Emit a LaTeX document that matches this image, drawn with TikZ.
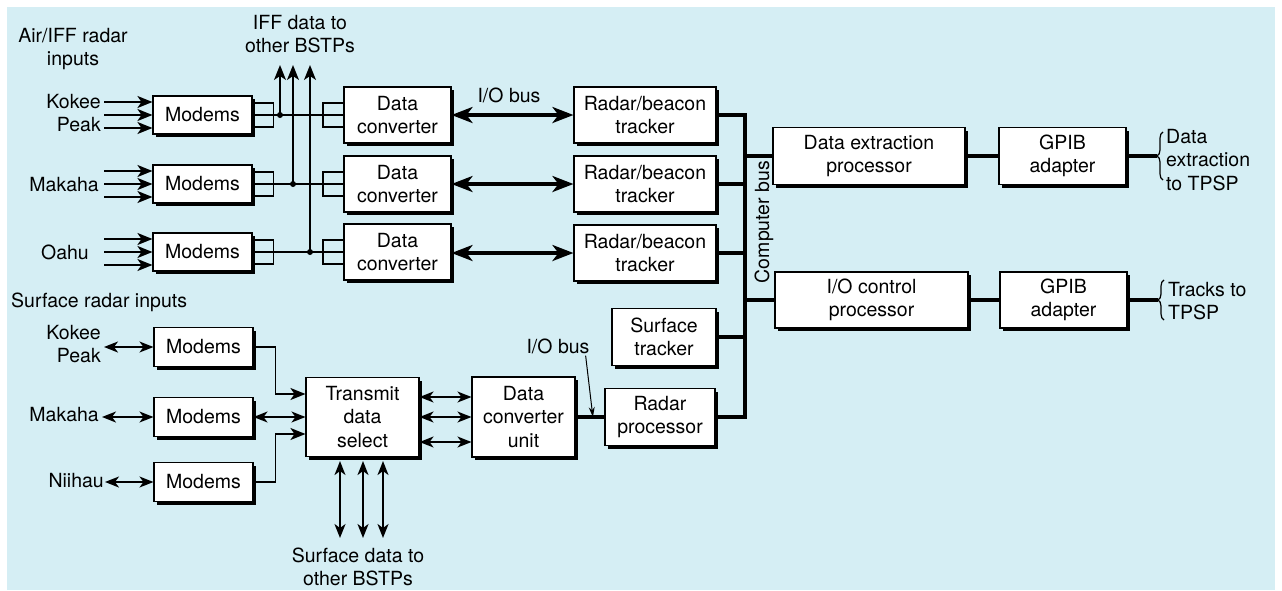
\documentclass[tikz,border=0pt]{standalone}
\usepackage{fontspec}
\setmainfont{TeX Gyre Heros}
\usetikzlibrary{arrows.meta,shadows,decorations.pathreplacing,calc}
\definecolor{panel}{RGB}{213,238,244}

\begin{document}
\begin{tikzpicture}[x=1pt, y=-1pt, font=\fontsize{19.5}{23.5}\selectfont,
	block/.style={draw, fill=white, line width=1.1pt, align=center, inner sep=1pt,
		drop shadow={shadow xshift=3pt, shadow yshift=-3pt, fill=black, opacity=1}},
	modem/.style={block, minimum width=99pt, minimum height=38pt},
	plug/.style={draw, line width=1.1pt, minimum width=21pt, minimum height=24pt, inner sep=0pt},
	txt/.style={align=center, inner sep=0pt},
	sig/.style={line width=1.6pt},
	bus/.style={line width=3.5pt},
	onehead/.style={-{Stealth[length=15pt, width=12pt, inset=4pt]}},
	dblhead/.style={{Stealth[length=14pt, width=11pt, inset=4pt]}-{Stealth[length=14pt, width=11pt, inset=4pt]}},
	bighead/.style={{Stealth[length=21pt, width=16pt, inset=6pt]}-{Stealth[length=21pt, width=16pt, inset=6pt]}}]

	\useasboundingbox (0, 0) rectangle (1282, 590);
	\fill[panel] (7, 7) rectangle (1275, 590);

	% air / IFF inputs
	\node[txt] at (73, 49) (airhdr) {Air/IFF radar\\inputs};
	\node[txt] at (300, 34) (iffhdr) {IFF data to\\other BSTPs};
	\node[txt, align=right, anchor=east] at (101, 113) (kokee) {Kokee\\Peak};
	\node[txt, anchor=east] at (99, 185) (makaha) {Makaha};
	\node[txt, anchor=east] at (89, 252) (oahu) {Oahu};

	\node[modem] at (202.5, 115) (m1) {Modems};
	\node[modem] at (202.5, 184) (m2) {Modems};
	\node[modem] at (202.5, 252) (m3) {Modems};

	\node[block, minimum width=107pt, minimum height=56pt] at (397.5, 115) (c1) {Data\\converter};
	\node[block, minimum width=107pt, minimum height=56pt] at (397.5, 184) (c2) {Data\\converter};
	\node[block, minimum width=107pt, minimum height=56pt] at (397.5, 252) (c3) {Data\\converter};

	\node[block, minimum width=142pt, minimum height=56pt] at (645, 115) (t1) {Radar/beacon\\tracker};
	\node[block, minimum width=142pt, minimum height=56pt] at (645, 184) (t2) {Radar/beacon\\tracker};
	\node[block, minimum width=142pt, minimum height=56pt] at (645, 253) (t3) {Radar/beacon\\tracker};

	\node[txt] at (509, 95) (iob1) {I/O bus};

	% output side
	\node[block, minimum width=192pt, minimum height=57pt] at (869, 156) (dep) {Data extraction\\processor};
	\node[block, minimum width=127pt, minimum height=57pt] at (1062.5, 156) (ga1) {GPIB\\adapter};
	\node[block, minimum width=193pt, minimum height=56pt] at (871.5, 300) (ioc) {I/O control\\processor};
	\node[block, minimum width=127pt, minimum height=56pt] at (1063.5, 300) (ga2) {GPIB\\adapter};
	\node[txt, align=left, anchor=west] at (1166, 160) (dxout) {Data\\extraction\\to TPSP};
	\node[txt, align=left, anchor=west] at (1168, 301) (trout) {Tracks to\\TPSP};
	\node[txt, rotate=90] at (764, 222) (cbus) {Computer bus};

	% surface inputs
	\node[txt, anchor=west] at (11, 302) (surfhdr) {Surface radar inputs};
	\node[txt, align=right, anchor=east] at (101, 344) (kokee2) {Kokee\\Peak};
	\node[txt, anchor=east] at (99, 415) (makaha2) {Makaha};
	\node[txt, anchor=east] at (104, 481) (niihau) {Niihau};

	\node[modem, minimum height=39pt] at (203.5, 347) (s1) {Modems};
	\node[modem, minimum height=39pt] at (203.5, 417) (s2) {Modems};
	\node[modem, minimum height=39pt] at (203.5, 482) (s3) {Modems};

	\node[block, minimum width=113pt, minimum height=79pt] at (362.5, 417) (tds) {Transmit\\data\\select};
	\node[block, minimum width=103pt, minimum height=80pt] at (523.5, 417) (dcu) {Data\\converter\\unit};
	\node[block, minimum width=110pt, minimum height=57pt] at (660, 417) (rp) {Radar\\processor};
	\node[block, minimum width=104pt, minimum height=57pt] at (664, 337) (st) {Surface\\tracker};
	\node[txt] at (558, 346) (iob2) {I/O bus};
	\node[txt] at (358, 567) (sdhdr) {Surface data to\\other BSTPs};

	\coordinate (iff1) at (280, 65);
	\coordinate (iff2) at (293, 65);
	\coordinate (iff3) at (310, 65);
	\coordinate (bustop) at (745, 115);
	\coordinate (busbot) at (745, 417);
	\coordinate (br1) at (1157, 156);
	\coordinate (br2) at (1158, 300);
	\coordinate (sd1) at (340, 538);
	\coordinate (sd2) at (363, 538);
	\coordinate (sd3) at (383, 538);

	% connectors
	\foreach \m in {m1, m2, m3}
		\foreach \dy in {13, 0, -13}
			\draw[sig, onehead] ([xshift=-48pt, yshift=\dy pt]\m.west) -- ([yshift=\dy pt]\m.west);

	\foreach \m/\c in {m1/c1, m2/c2, m3/c3} {
		\node[plug] at ($(\m.east)+(10.5, 0)$) (p\m) {};
		\node[plug] at ($(\c.west)+(-10, 0)$) (p\c) {};
		\draw[sig] (\m.east) -- (\c.west);
	}

	\path[sig, onehead]
		(iff1 |- m1) edge (iff1)
		(iff2 |- m2) edge (iff2)
		(iff3 |- m3) edge (iff3)
		;
	\foreach \i/\m in {1/m1, 2/m2, 3/m3}
		\fill (iff\i |- \m) circle (3);

	\path[bus, bighead]
		(c1) edge (t1)
		(c2) edge (t2)
		(c3.east |- t3) edge (t3)
		;

	\draw[bus, line join=miter] (t1.east) -- (bustop) -- (busbot) -- (rp.east);
	\path[bus]
		(t2.east) edge (t2.east -| bustop)
		(t3.east) edge (t3.east -| bustop)
		(st.east) edge (st.east -| bustop)
		(dep.west -| bustop) edge (dep.west)
		(ioc.west -| bustop) edge (ioc.west)
		(dep) edge (ga1)
		(ioc) edge (ga2)
		(ga1) edge (br1)
		(ga2) edge (br2)
		(dcu) edge (rp)
		;

	\draw[line width=1.2pt, decorate, decoration={brace, amplitude=6pt}] (1163, 180) -- (1163, 132);
	\draw[line width=1.2pt, decorate, decoration={brace, amplitude=6pt}] (1164, 320) -- (1164, 280);

	\path[sig, dblhead]
		(kokee2.east |- s1) edge[shorten <=3pt] (s1.west)
		(makaha2.east |- s2) edge[shorten <=3pt] (s2.west)
		(niihau.east |- s3) edge[shorten <=1pt] (s3.west)
		(s2) edge (tds)
		;
	\draw[sig, onehead] (s1.east) -- ++(22, 0) |- ([yshift=23pt]tds.west);
	\draw[sig, onehead] (s3.east) -- ++(22, 0) |- ([yshift=-17pt]tds.west);

	\foreach \dy in {20, 0, -25}
		\draw[sig, dblhead] ([yshift=\dy pt]tds.east) -- ([yshift=\dy pt]dcu.west);
	\foreach \i in {1, 2, 3}
		\draw[sig, dblhead, shorten <=4pt] (sd\i |- tds.south) -- (sd\i);

	\draw[line width=1pt, -{Stealth[length=10pt, width=6pt]}] ([xshift=-4pt, yshift=-2pt]iob2.south east) -- ($(dcu.east)!0.6!(rp.west)$);
\end{tikzpicture}
\end{document}
